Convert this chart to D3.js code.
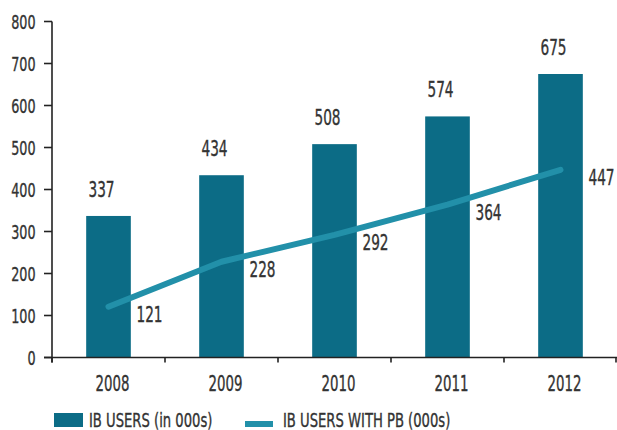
<!DOCTYPE html>
<html>
<head>
<meta charset="utf-8">
<script src="https://cdn.jsdelivr.net/npm/d3@7/dist/d3.min.js"></script>
<style>
  html, body { margin: 0; padding: 0; background: #ffffff; }
  svg { display: block; }
  text { font-family: "DejaVu Sans Condensed", "DejaVu Sans", sans-serif; fill: #333333; stroke: #333333; stroke-width: 0.35; }
</style>
</head>
<body>
<svg id="chart" width="617" height="430"></svg>
<script>
// Internet banking users by year (thousands)
const years = ["2008", "2009", "2010", "2011", "2012"];
const ibUsers = [337, 434, 508, 574, 675];
const ibUsersWithPB = [121, 228, 292, 364, 447];
const yTicks = [0, 100, 200, 300, 400, 500, 600, 700, 800];
const legendLabels = ["IB USERS (in 000s)", "IB USERS WITH PB (000s)"];

const barColor = "#0c6c86";
const lineColor = "#2290a9";
const axisColor = "#222222";

const svg = d3.select("#chart");

const x = d3.scaleBand().domain(years).range([52, 617]).padding(0);
const y = d3.scaleLinear().domain([0, 800]).range([357.5, 21.5]);
const barW = x.bandwidth() * 0.395;
const cx = d => x(d) + x.bandwidth() / 2;

// text drawn with a horizontally condensed face
function label(g, tx, ty, txt, size, anchor, squeeze) {
  return g.append("text")
    .attr("transform", `translate(${tx},${ty}) scale(${squeeze},1)`)
    .attr("text-anchor", anchor)
    .style("font-size", size + "px")
    .text(txt);
}

// bars
svg.append("g").selectAll("rect")
  .data(years)
  .join("rect")
  .attr("x", (d) => cx(d) - barW / 2)
  .attr("y", (d, i) => y(ibUsers[i]))
  .attr("width", barW)
  .attr("height", (d, i) => y(0) - y(ibUsers[i]))
  .attr("fill", barColor);

// y axis
const yAxis = svg.append("g");
yAxis.append("line")
  .attr("x1", x.range()[0]).attr("x2", x.range()[0])
  .attr("y1", y(800)).attr("y2", y(0) + 5)
  .attr("stroke", axisColor).attr("stroke-width", 1.6);
yTicks.forEach(t => {
  yAxis.append("line")
    .attr("x1", x.range()[0] - 8).attr("x2", x.range()[0])
    .attr("y1", y(t)).attr("y2", y(t))
    .attr("stroke", axisColor).attr("stroke-width", 1.6);
  label(yAxis, 35.5, y(t) + 7.3, String(t), 20, "end", 0.71);
});

// x axis with boundary ticks between categories
const xAxis = svg.append("g");
xAxis.append("line")
  .attr("x1", x.range()[0] - 8).attr("x2", x.range()[1])
  .attr("y1", y(0)).attr("y2", y(0))
  .attr("stroke", axisColor).attr("stroke-width", 1.6);
years.map(d => x(d)).concat([x.range()[1] - 1]).forEach(bx => {
  xAxis.append("line")
    .attr("x1", bx).attr("x2", bx)
    .attr("y1", y(0)).attr("y2", y(0) + 5)
    .attr("stroke", axisColor).attr("stroke-width", 1.6);
});
years.forEach(d => label(xAxis, cx(d) + 4, 391, d, 21.5, "middle", 0.69));

// bar value labels
const barLabels = svg.append("g");
years.forEach((d, i) => label(barLabels, cx(d) - 7, y(ibUsers[i]) - 19, String(ibUsers[i]), 22, "middle", 0.69));

// line series
const line = d3.line().x(d => cx(d.year)).y(d => y(d.value));
const lineData = years.map((year, i) => ({ year, value: ibUsersWithPB[i] }));
svg.append("path")
  .datum(lineData)
  .attr("d", line)
  .attr("fill", "none")
  .attr("stroke", lineColor)
  .attr("stroke-width", 6)
  .attr("stroke-linecap", "round")
  .attr("stroke-linejoin", "round");

const lineLabels = svg.append("g");
lineData.forEach(p => label(lineLabels, cx(p.year) + 28, y(p.value) + 15, String(p.value), 22, "start", 0.69));

// legend
const legend = svg.append("g");
legend.append("rect")
  .attr("x", 54).attr("y", 413).attr("width", 29).attr("height", 14)
  .attr("fill", barColor);
label(legend, 89, 427, legendLabels[0], 19, "start", 0.77);
legend.append("rect")
  .attr("x", 245).attr("y", 421).attr("width", 28).attr("height", 6)
  .attr("fill", lineColor);
label(legend, 283, 427, legendLabels[1], 19, "start", 0.77);
</script>
</body>
</html>
